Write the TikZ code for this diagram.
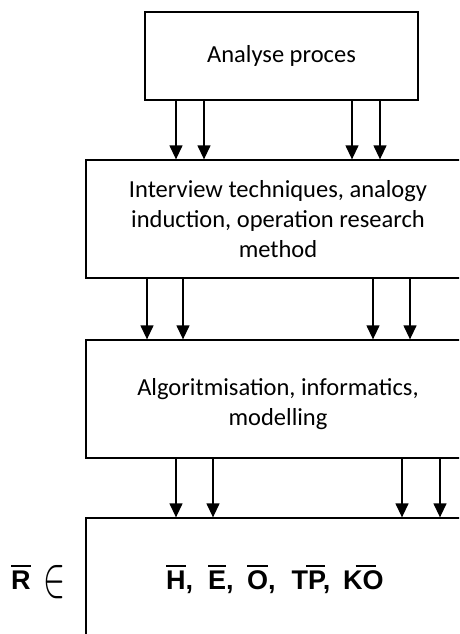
\documentclass[tikz,border=0pt]{standalone}
\usepackage{fontspec}
\setmainfont{Carlito}
\newfontfamily\arialf{Liberation Sans}
\usetikzlibrary{arrows.meta}
% bar of the full width of the text
\newcommand{\obx}[1]{\setbox0\hbox{#1}\rlap{\raisebox{22.5pt}{\rule{\wd0}{1.8pt}}}\box0}
% bar of given width at a given offset over the text
\newcommand{\ovl}[3]{\rlap{\kern#1\raisebox{22.5pt}{\rule{#2}{1.8pt}}}#3}
\begin{document}
\begin{tikzpicture}[x=1pt,y=-1pt,
  box/.style={draw=black,line width=1.3pt,fill=white,align=center,inner sep=0pt,
    font=\fontsize{24.5}{30}\selectfont},
  arr/.style={line width=1.3pt,-{Triangle[width=13pt,length=14pt]}},
  sym/.style={font=\arialf\bfseries\fontsize{27}{30}\selectfont,inner sep=0pt}]
\useasboundingbox (0,0) rectangle (459,634);
\clip (0,0) rectangle (459,634);

\node[box,minimum width=273pt,minimum height=88pt] (b1) at (281.5,56) {Analyse proces};
\node[box,minimum width=384pt,minimum height=118pt] (b2) at (278,219)
  {Interview techniques, analogy\\induction, operation research\\method};
\node[box,minimum width=384pt,minimum height=118pt] (b3) at (278,399)
  {\rule{0pt}{28pt}Algoritmisation, informatics,\\modelling};
\node[box,minimum width=384pt,minimum height=118pt] (b4) at (278,577) {};

\node[sym,anchor=base west] (t4) at (166,589)
  {\obx{H},\hspace{15pt}\obx{E},\hspace{13.5pt}\obx{O},\hspace{16pt}T\ovl{-2.2pt}{19pt}{P},\hspace{13pt}K\ovl{-7pt}{20pt}{O}};
\node[sym,anchor=base west] (r) at (11,589) {\obx{R}};
\node[inner sep=0pt] (in) at (55,582) {\resizebox{22pt}{31pt}{$\in$}};

\foreach \x in {176,204,352,380}
  \draw[arr] (\x,0 |- b1.south) -- (\x,0 |- b2.north);
\foreach \x in {147,183,373,410}
  \draw[arr] (\x,0 |- b2.south) -- (\x,0 |- b3.north);
\foreach \x in {176,213,402,440}
  \draw[arr] (\x,0 |- b3.south) -- (\x,0 |- b4.north);
\end{tikzpicture}
\end{document}
